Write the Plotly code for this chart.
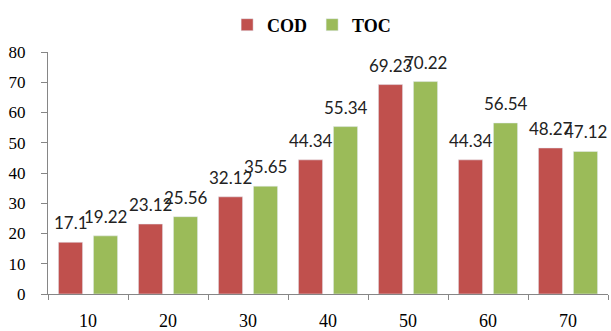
import plotly.graph_objects as go

categories = ["10", "20", "30", "40", "50", "60", "70"]
cod = [17.1, 23.12, 32.12, 44.34, 69.23, 44.34, 48.27]
toc = [19.22, 25.56, 35.65, 55.34, 70.22, 56.54, 47.12]

serif = "Times New Roman, Liberation Serif, serif"
label_font = dict(family="Lato", size=17, color="#222222")

fig = go.Figure()
fig.add_trace(go.Bar(name="COD", x=categories, y=cod, marker_color="#C0504D"))
fig.add_trace(go.Bar(name="TOC", x=categories, y=toc, marker_color="#9BBB59"))

# value labels above each bar, shifted to the bar's slot in the group
# (x given as category index so the numeric-looking names stay categories)
for values, shift in ((cod, -17.5), (toc, 17.5)):
    for i, v in enumerate(values):
        fig.add_annotation(
            x=i, y=v, text=f"{v:g}", showarrow=False,
            xanchor="center", yanchor="bottom", xshift=shift, yshift=7,
            font=label_font,
        )

fig.update_layout(
    width=611, height=331,
    margin=dict(l=48, r=3, t=52, b=37),
    paper_bgcolor="white", plot_bgcolor="white",
    barmode="group", bargap=0.125, bargroupgap=0.31,
    showlegend=True,
    legend=dict(orientation="h", xref="container", yref="container",
                x=0.51, y=1 - 25 / 331, xanchor="center", yanchor="middle",
                font=dict(family=serif, size=18, color="black", weight="bold"),
                itemwidth=30, traceorder="normal"),
)

fig.update_xaxes(
    type="category", tickson="boundaries", ticks="outside", ticklen=5,
    tickcolor="#868686", showline=True, linecolor="#868686", linewidth=1,
    showgrid=False, tickfont=dict(family=serif, size=18, color="black"),
    ticklabelstandoff=10, range=[-0.5, 6.5], automargin=False,
)
fig.update_yaxes(
    range=[0, 80], dtick=10, ticks="outside", ticklen=6, tickcolor="#868686",
    showline=True, linecolor="#868686", linewidth=1, showgrid=False,
    zeroline=False, tickfont=dict(family=serif, size=17, color="black"),
    ticklabelstandoff=12, automargin=False,
)

fig.write_html("out.html")
